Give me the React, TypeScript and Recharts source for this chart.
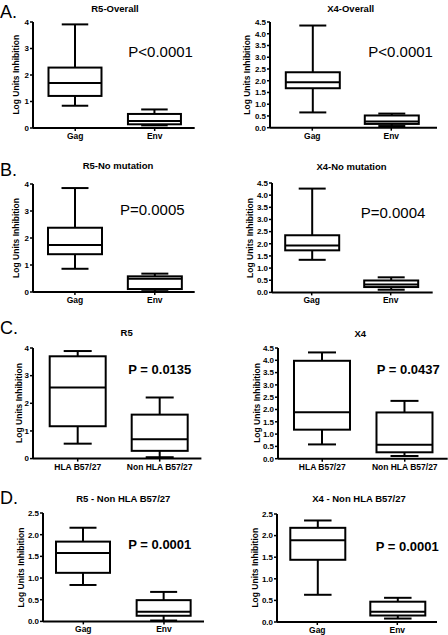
import React from 'react';
import { ComposedChart, Bar, XAxis, YAxis } from 'recharts';

// categories
const catsGagEnv = ['Gag', 'Env'];
const catsHLA = ['HLA B57/27', 'Non HLA B57/27'];

// tick sets
const ticksInt = [0, 1, 2, 3, 4];
const ticksHalf45 = [0, 0.5, 1, 1.5, 2, 2.5, 3, 3.5, 4, 4.5];
const ticksHalf25 = [0, 0.5, 1, 1.5, 2, 2.5];

// five-number summaries: [min, q1, median, q3, max]
const r5OverallGag = [0.84, 1.21, 1.7, 2.28, 3.91];
const r5OverallEnv = [0.1, 0.14, 0.26, 0.53, 0.7];
const x4OverallGag = [0.65, 1.68, 1.93, 2.36, 4.35];
const x4OverallEnv = [0.07, 0.16, 0.26, 0.52, 0.6];
const r5NoMutGag = [0.86, 1.4, 1.74, 2.38, 3.85];
const r5NoMutEnv = [0.03, 0.11, 0.49, 0.58, 0.68];
const x4NoMutGag = [1.34, 1.73, 1.93, 2.35, 4.27];
const x4NoMutEnv = [0.11, 0.22, 0.32, 0.49, 0.62];
const r5HLA = [0.54, 1.17, 2.57, 3.7, 3.89];
const r5NonHLA = [0.05, 0.28, 0.7, 1.59, 2.21];
const x4HLA = [0.58, 1.18, 1.89, 3.98, 4.32];
const x4NonHLA = [0.11, 0.26, 0.57, 1.88, 2.35];
const r5NonHLAGag = [0.84, 1.12, 1.58, 1.84, 2.16];
const r5NonHLAEnv = [0.02, 0.13, 0.22, 0.49, 0.68];
const x4NonHLAGag = [0.63, 1.44, 1.89, 2.18, 2.35];
const x4NonHLAEnv = [0.08, 0.15, 0.24, 0.47, 0.56];

const FONT = '"Liberation Sans", Arial, Helvetica, sans-serif';

const build = (cats: string[], stats: number[][]) =>
  cats.map((name, i) => ({ name, range: [stats[i][0], stats[i][4]], stats: stats[i] }));

const panels = [
  { title: 'R5-Overall', letter: 'A.', p: 'P<0.0001', pBold: false, data: build(catsGagEnv, [r5OverallGag, r5OverallEnv]), ticks: ticksInt, dec: false,
    axisX: 33.3, top: 21.7, bottom: 127.7, end: 195, pl: 2.5, pr: 0.3, bar: 53,
    titleX: 115, titleY: 12, pX: 128.3, pY: 57.3, labX: 16, letterY: 17.5 },
  { title: 'X4-Overall', letter: '', p: 'P<0.0001', pBold: false, data: build(catsGagEnv, [x4OverallGag, x4OverallEnv]), ticks: ticksHalf45, dec: true,
    axisX: 269.7, top: 22, bottom: 127.7, end: 437, pl: 2.8, pr: 6.5, bar: 54,
    titleX: 350.7, titleY: 12, pX: 368.3, pY: 57.3, labX: 247, letterY: 0 },
  { title: 'R5-No mutation', letter: 'B.', p: 'P=0.0005', pBold: false, data: build(catsGagEnv, [r5NoMutGag, r5NoMutEnv]), ticks: ticksInt, dec: false,
    axisX: 33.3, top: 184, bottom: 292, end: 195, pl: 2, pr: 0, bar: 54,
    titleX: 118, titleY: 169, pX: 120, pY: 215, labX: 16, letterY: 175.5 },
  { title: 'X4-No mutation', letter: '', p: 'P=0.0004', pBold: false, data: build(catsGagEnv, [x4NoMutGag, x4NoMutEnv]), ticks: ticksHalf45, dec: true,
    axisX: 272.3, top: 183.3, bottom: 292.7, end: 433, pl: 0.2, pr: 2.5, bar: 54,
    titleX: 351.5, titleY: 169.5, pX: 360.7, pY: 217.7, labX: 250, letterY: 0 },
  { title: 'R5', letter: 'C.', p: 'P = 0.0135', pBold: true, data: build(catsHLA, [r5HLA, r5NonHLA]), ticks: ticksInt, dec: false,
    axisX: 33.3, top: 347.7, bottom: 458.3, end: 201.7, pl: 3.7, pr: 0.7, bar: 56,
    titleX: 126.7, titleY: 336, pX: 128.3, pY: 374.3, labX: 19, letterY: 334 },
  { title: 'X4', letter: '', p: 'P = 0.0437', pBold: true, data: build(catsHLA, [x4HLA, x4NonHLA]), ticks: ticksHalf45, dec: true,
    axisX: 278.3, top: 347.6, bottom: 458.3, end: 448, pl: 3, pr: 1.7, bar: 56,
    titleX: 360.3, titleY: 336.5, pX: 376.7, pY: 374.3, labX: 257, letterY: 0 },
  { title: 'R5 - Non HLA B57/27', letter: 'D.', p: 'P = 0.0001', pBold: true, data: build(catsGagEnv, [r5NonHLAGag, r5NonHLAEnv]), ticks: ticksHalf25, dec: true,
    axisX: 42.7, top: 513.3, bottom: 621.7, end: 204, pl: 0, pr: 0, bar: 54,
    titleX: 123.3, titleY: 501.5, pX: 128.3, pY: 549, labX: 21, letterY: 504 },
  { title: 'X4 - Non HLA B57/27', letter: '', p: 'P = 0.0001', pBold: true, data: build(catsGagEnv, [x4NonHLAGag, x4NonHLAEnv]), ticks: ticksHalf25, dec: true,
    axisX: 276.7, top: 513.7, bottom: 621.7, end: 437, pl: 0.3, pr: 0, bar: 55,
    titleX: 359, titleY: 501.7, pX: 375.7, pY: 551, labX: 255, letterY: 0 },
];

const BoxShape = (props: any) => {
  const { x, y, width, height, payload } = props;
  const s: number[] = payload.stats;
  const top = Math.min(y, y + height);
  const bot = Math.max(y, y + height);
  const py = (v: number) => bot - ((bot - top) * (v - s[0])) / (s[4] - s[0]);
  const cx = x + width / 2;
  const cap = width / 2;
  return (
    <g stroke="#000" strokeWidth={2} fill="#fff">
      <line x1={cx} x2={cx} y1={py(s[4])} y2={py(s[3])} />
      <line x1={cx} x2={cx} y1={py(s[1])} y2={py(s[0])} />
      <line x1={cx - cap / 2} x2={cx + cap / 2} y1={py(s[4])} y2={py(s[4])} />
      <line x1={cx - cap / 2} x2={cx + cap / 2} y1={py(s[0])} y2={py(s[0])} />
      <rect x={x} y={py(s[3])} width={width} height={py(s[1]) - py(s[3])} />
      <line x1={x} x2={x + width} y1={py(s[2])} y2={py(s[2])} />
    </g>
  );
};

const YW = 30;
const MT = 6;
const XH = 22;

export default function App() {
  return (
    <div style={{ position: 'absolute', left: 0, top: 0, width: 448, height: 635, background: '#fff', overflow: 'hidden' }}>
      {panels.map((pn, i) => {
        const w = YW + (pn.end - pn.axisX);
        const h = MT + (pn.bottom - pn.top) + XH;
        const maxTick = pn.ticks[pn.ticks.length - 1];
        return (
          <div key={i} style={{ position: 'absolute', left: pn.axisX - YW, top: pn.top - MT, width: w, height: h }}>
            <ComposedChart width={w} height={h} data={pn.data} margin={{ top: MT, right: 0, bottom: 0, left: 0 }}>
              <XAxis
                dataKey="name"
                type="category"
                interval={0}
                height={XH}
                padding={{ left: pn.pl, right: pn.pr }}
                axisLine={{ stroke: '#000', strokeWidth: 2 }}
                tickLine={{ stroke: '#000', strokeWidth: 1.5 }}
                tickSize={3}
                tickMargin={2}
                tick={{ fill: '#000', fontSize: 8.5, fontWeight: 700, fontFamily: FONT }}
              />
              <YAxis
                type="number"
                width={YW}
                domain={[0, maxTick]}
                ticks={pn.ticks}
                interval={0}
                tickFormatter={(v: number) => (pn.dec ? v.toFixed(1) : String(v))}
                axisLine={{ stroke: '#000', strokeWidth: 2 }}
                tickLine={{ stroke: '#000', strokeWidth: 1.5 }}
                tickSize={3}
                tickMargin={1}
                tick={{ fill: '#000', fontSize: 8, fontWeight: 700, fontFamily: FONT }}
              />
              <Bar dataKey="range" barSize={pn.bar} shape={<BoxShape />} isAnimationActive={false} />
            </ComposedChart>
          </div>
        );
      })}
      <svg width={448} height={635} style={{ position: 'absolute', left: 0, top: 0, pointerEvents: 'none' }} fontFamily={FONT}>
        {panels.map((pn, i) => (
          <g key={i}>
            {pn.letter ? (
              <text x={0} y={pn.letterY} fontSize={18} fill="#000">{pn.letter}</text>
            ) : null}
            <text x={pn.titleX} y={pn.titleY} fontSize={9.5} fontWeight={700} textAnchor="middle" fill="#000">{pn.title}</text>
            <text x={pn.pX} y={pn.pY} fontSize={pn.pBold ? 13 : 15} fontWeight={pn.pBold ? 700 : 400} fill="#000">{pn.p}</text>
            <text
              x={pn.labX}
              y={(pn.top + pn.bottom) / 2}
              fontSize={8.5}
              fontWeight={700}
              textAnchor="middle"
              dominantBaseline="central"
              fill="#000"
              transform={`rotate(-90 ${pn.labX} ${(pn.top + pn.bottom) / 2})`}
            >
              Log Units Inhibition
            </text>
          </g>
        ))}
      </svg>
    </div>
  );
}
